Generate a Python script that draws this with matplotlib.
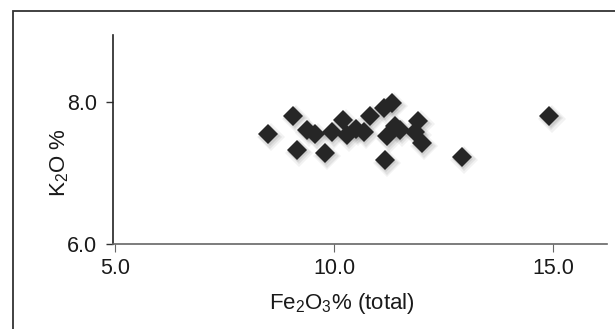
import matplotlib
matplotlib.use("Agg")
import matplotlib.pyplot as plt
import matplotlib.transforms as mtransforms
from matplotlib.patches import Rectangle

# Fe2O3 (total) vs K2O
fe2o3 = [8.50, 9.07, 9.15, 9.38, 9.57, 9.79, 9.95, 10.21, 10.29, 10.50, 10.68,
         10.82, 11.13, 11.32, 11.16, 11.21, 11.39, 11.50, 11.92, 11.85, 12.00,
         12.92, 14.91]
k2o = [7.55, 7.81, 7.33, 7.61, 7.55, 7.28, 7.58, 7.75, 7.54, 7.62, 7.58,
       7.80, 7.92, 7.99, 7.18, 7.52, 7.66, 7.61, 7.73, 7.58, 7.42,
       7.23, 7.81]
x_ticks = [5.0, 10.0, 15.0]
y_ticks = [6.0, 8.0]

plt.rcParams["font.family"] = ["Liberation Sans", "DejaVu Sans"]
plt.rcParams["mathtext.default"] = "regular"

fig = plt.figure(figsize=(6.15, 3.29), dpi=100)

# outer frame (only top and left edges show in the reference)
fig.patches.append(Rectangle((13 / 615, -0.2), 1.2, 1.2 - 11 / 329,
                             transform=fig.transFigure, fill=False,
                             edgecolor="#333333", linewidth=1.3))

ax = fig.add_axes([112.7 / 615, 1 - 244 / 329, (607 - 112.7) / 615, (244 - 35) / 329])
ax.set_xlim(4.947, 16.23)
ax.set_ylim(6.0, 8.95)

# soft drop shadow under the diamonds
for dx, dy, grow, a in [(2.5, -3.0, 4.0, 0.10), (2.0, -2.5, 2.0, 0.15), (1.5, -2.0, 0.0, 0.20)]:
    off = mtransforms.offset_copy(ax.transData, fig=fig, x=dx, y=dy, units="dots")
    ax.plot(fe2o3, k2o, linestyle="none", marker="D", markersize=10.5 + grow,
            color="#808080", alpha=a, markeredgewidth=0, transform=off, zorder=2)

ax.plot(fe2o3, k2o, linestyle="none", marker="D", markersize=10.5,
        color="#262626", markeredgewidth=0, zorder=3)

ax.spines["top"].set_visible(False)
ax.spines["right"].set_visible(False)
ax.spines["left"].set_color("#222222")
ax.spines["bottom"].set_color("#666666")
ax.spines["left"].set_linewidth(1.2)
ax.spines["bottom"].set_linewidth(1.2)

ax.set_xticks(x_ticks)
ax.set_xticklabels([f"{v:.1f}" for v in x_ticks])
ax.set_yticks(y_ticks)
ax.set_yticklabels([f"{v:.1f}" for v in y_ticks])
ax.tick_params(axis="x", direction="out", length=6, width=0.8, color="#666666",
               labelsize=15.5, pad=4, labelcolor="#1a1a1a")
ax.tick_params(axis="y", direction="out", length=5, width=1.0, color="#333333",
               labelsize=15.5, pad=6, labelcolor="#1a1a1a")

ax.set_xlabel("Fe$_2$O$_3$% (total)", fontsize=16, color="#1a1a1a")
ax.xaxis.set_label_coords(0.464, -0.225)
ax.set_ylabel("K$_2$O %", fontsize=16, color="#1a1a1a", ha="center", va="center")
ax.yaxis.set_label_coords(-0.1066, 0.3876)

fig.savefig("out.png", dpi=100)
